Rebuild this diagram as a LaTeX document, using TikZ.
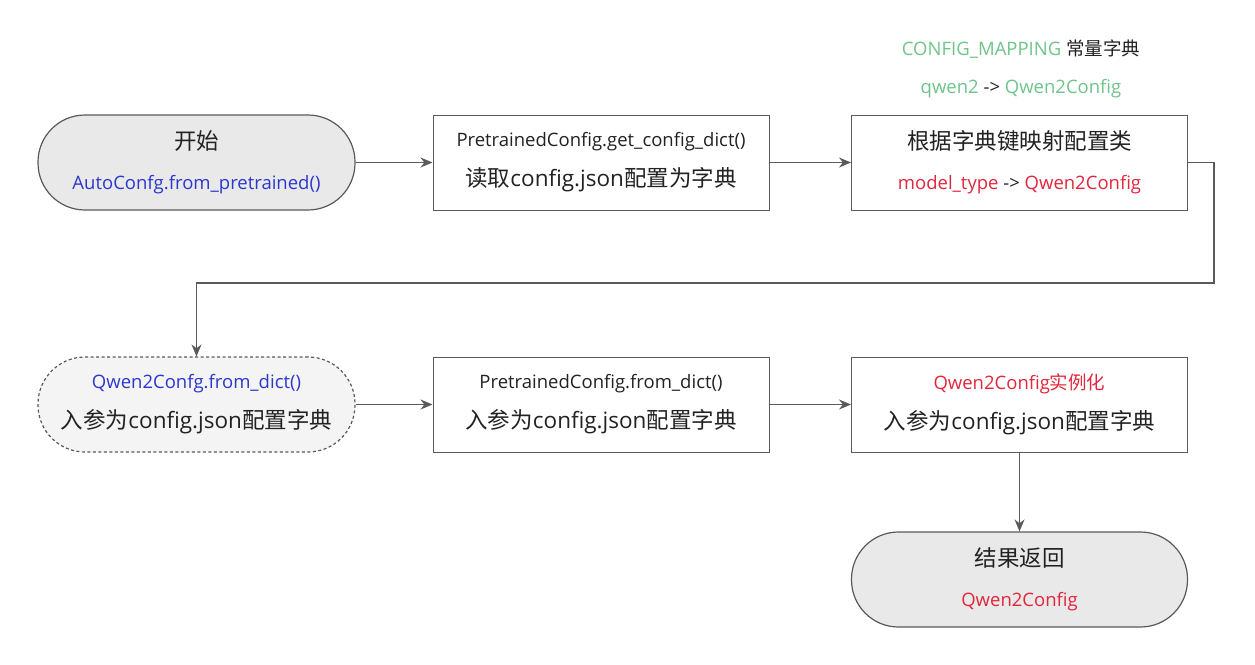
\documentclass[tikz,border=0pt]{standalone}
\usepackage{fontspec}
\setmainfont{Open Sans}
\newfontfamily\cjk{Noto Sans CJK SC}
\usetikzlibrary{arrows.meta}
\definecolor{boxgray}{HTML}{E8E9E8}
\definecolor{palegray}{HTML}{F3F4F3}
\definecolor{linegray}{HTML}{5A5A5A}
\definecolor{ink}{HTML}{222222}
\definecolor{callblue}{RGB}{45,55,205}
\definecolor{classred}{RGB}{226,38,60}
\definecolor{mapgreen}{RGB}{112,196,138}
\newcommand{\largetext}{\fontsize{22.5}{40}\selectfont}
\newcommand{\smalltext}{\fontsize{18.5}{40}\selectfont}

\begin{document}
\begin{tikzpicture}[x=1pt,y=-1pt,
  terminal/.style={draw=linegray,fill=boxgray,line width=1.2pt,rounded corners=47pt,
    minimum width=317pt,minimum height=95pt,align=center,font=\smalltext,text=ink},
  callnode/.style={terminal,fill=palegray,dash pattern=on 3pt off 2.5pt},
  stepbox/.style={draw=linegray,line width=1pt,minimum width=336pt,minimum height=95pt,
    align=center,font=\smalltext,text=ink},
  flow/.style={draw=linegray,line width=1.4pt,-{Stealth[length=12pt,width=10pt]}}]
\useasboundingbox (0,0) rectangle (1255,664);
% first row
\node[terminal] (start) at (196.5,162.5) {{\largetext\cjk 开始}\\{\color{callblue}AutoConfg.from\_pretrained()}};
\node[stepbox] (getdict) at (601,162.5) {PretrainedConfig.get\_config\_dict()\\{\largetext\cjk 读取\rmfamily config.json\cjk 配置为字典}};
\node[stepbox] (mapclass) at (1019.5,162.5) {{\largetext\cjk 根据字典键映射配置类}\\{\color{classred}model\_type} -> {\color{classred}Qwen2Config}};
\node[font=\smalltext,text=ink] (mapname) at (1021,49) {{\color{mapgreen}CONFIG\_MAPPING} {\cjk 常量字典}};
\node[font=\smalltext,text=ink] (mapentry) at (1021,89) {{\color{mapgreen}qwen2} -> {\color{mapgreen}Qwen2Config}};
% second row
\node[callnode] (qwendict) at (196.5,404.5) {{\color{callblue}Qwen2Confg.from\_dict()}\\{\largetext\cjk 入参为\rmfamily config.json\cjk 配置字典}};
\node[stepbox] (fromdict) at (601,404.5) {PretrainedConfig.from\_dict()\\{\largetext\cjk 入参为\rmfamily config.json\cjk 配置字典}};
\node[stepbox] (instance) at (1019.5,404.5) {{\color{classred}Qwen2Config\cjk 实例化}\\{\largetext\cjk 入参为\rmfamily config.json\cjk 配置字典}};
\node[terminal,minimum width=336pt] (result) at (1019.5,579.5) {{\largetext\cjk 结果返回}\\{\color{classred}Qwen2Config}};
\coordinate (turn) at (1214,283);
\draw[flow] (start) -- (getdict);
\draw[flow] (getdict) -- (mapclass);
\draw[flow] (mapclass.east) -| (turn) -| (qwendict.north);
\draw[flow] (qwendict) -- (fromdict);
\draw[flow] (fromdict) -- (instance);
\draw[flow] (instance) -- (result);
\end{tikzpicture}
\end{document}
